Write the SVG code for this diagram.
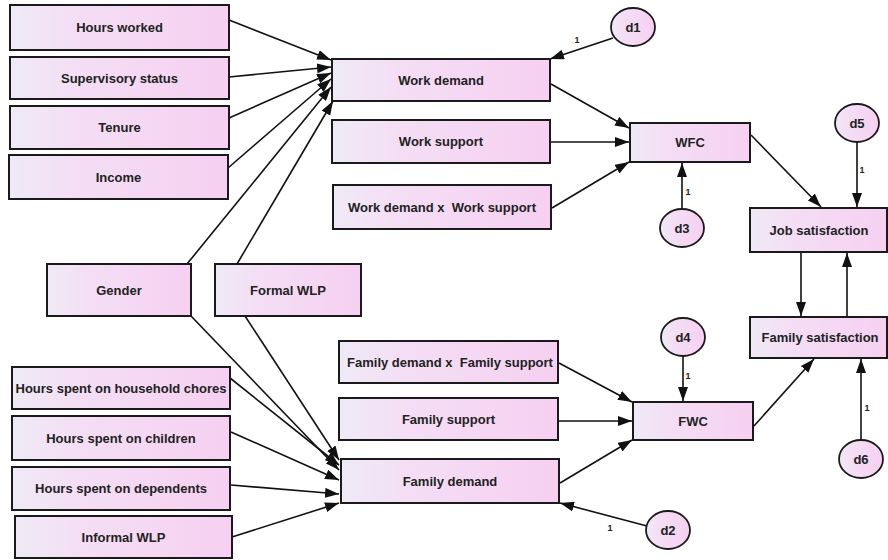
<svg xmlns="http://www.w3.org/2000/svg" width="888" height="560" viewBox="0 0 888 560">
<defs>
<linearGradient id="pk" x1="0" y1="0" x2="1" y2="0">
<stop offset="0" stop-color="#efeaf6"/>
<stop offset="0.3" stop-color="#f4def5"/>
<stop offset="1" stop-color="#f6d0f1"/>
</linearGradient>
<marker id="ah" markerUnits="userSpaceOnUse" markerWidth="14" markerHeight="10" refX="14" refY="5" orient="auto">
<path d="M0,0 L14,5 L0,10 z" fill="#111"/>
</marker>
<style>
.b{fill:url(#pk);stroke:#1a1a1a;stroke-width:2}
.e{fill:url(#pk);stroke:#1a1a1a;stroke-width:1.8}
.t{font-family:"Liberation Sans",Arial,sans-serif;font-weight:bold;font-size:13px;fill:#222;text-anchor:middle}
.c line{stroke:#111;stroke-width:1.6;marker-end:url(#ah)}
.one{font-family:"Liberation Sans",Arial,sans-serif;font-weight:bold;font-size:9px;fill:#222;text-anchor:middle}
</style>
</defs>
<rect width="888" height="560" fill="#fff"/>

<g id="connectors" class="c">
<line x1="229" y1="20" x2="331" y2="60"/>
<line x1="229" y1="77" x2="331" y2="67"/>
<line x1="229" y1="118" x2="331" y2="73"/>
<line x1="228" y1="168" x2="331" y2="79"/>
<line x1="187" y1="264" x2="331" y2="87"/>
<line x1="237" y1="264" x2="333" y2="101"/>
<line x1="551" y1="84" x2="629" y2="128"/>
<line x1="551" y1="142" x2="629" y2="142"/>
<line x1="552" y1="208" x2="629" y2="162"/>
<line x1="613" y1="38" x2="550" y2="59"/>
<line x1="682" y1="209" x2="682" y2="163"/>
<line x1="751" y1="135" x2="821" y2="207"/>
<line x1="857" y1="142" x2="857" y2="207"/>
<line x1="801" y1="252" x2="801" y2="316"/>
<line x1="847" y1="317" x2="847" y2="253"/>
<line x1="683" y1="356" x2="683" y2="401"/>
<line x1="559" y1="363" x2="632" y2="402"/>
<line x1="559" y1="421" x2="632" y2="421"/>
<line x1="560" y1="483" x2="632" y2="440"/>
<line x1="647" y1="526" x2="560" y2="503"/>
<line x1="754" y1="426" x2="814" y2="359"/>
<line x1="861" y1="440" x2="861" y2="359"/>
<line x1="230" y1="378" x2="339" y2="465"/>
<line x1="191" y1="316" x2="339" y2="470"/>
<line x1="245" y1="316" x2="339" y2="460"/>
<line x1="231" y1="432" x2="339" y2="480"/>
<line x1="231" y1="485" x2="339" y2="494"/>
<line x1="232" y1="537" x2="339" y2="503"/>
<text class="one" x="577" y="43">1</text>
<text class="one" x="688" y="195">1</text>
<text class="one" x="862" y="173">1</text>
<text class="one" x="688" y="379">1</text>
<text class="one" x="610" y="531">1</text>
<text class="one" x="867" y="411">1</text>
</g>

<g id="hours_worked"><rect class="b" x="10" y="5" width="219" height="45"/><text class="t" x="119.5" y="32">Hours worked</text></g>
<g id="supervisory_status"><rect class="b" x="10" y="57" width="219" height="42"/><text class="t" x="119.5" y="82.5">Supervisory status</text></g>
<g id="tenure"><rect class="b" x="10" y="106" width="219" height="43"/><text class="t" x="119.5" y="132">Tenure</text></g>
<g id="income"><rect class="b" x="9" y="155" width="219" height="44"/><text class="t" x="118.5" y="181.5">Income</text></g>
<g id="gender"><rect class="b" x="47" y="264" width="144" height="52"/><text class="t" x="119" y="294.5">Gender</text></g>
<g id="formal_wlp"><rect class="b" x="215" y="264" width="146" height="52"/><text class="t" x="288" y="294.5">Formal WLP</text></g>
<g id="hours_chores"><rect class="b" x="12" y="367" width="218" height="42"/><text class="t" x="121" y="392.5">Hours spent on household chores</text></g>
<g id="hours_children"><rect class="b" x="12" y="416" width="218" height="44"/><text class="t" x="121" y="442.5">Hours spent on children</text></g>
<g id="hours_dependents"><rect class="b" x="12" y="467" width="218" height="43"/><text class="t" x="121" y="493">Hours spent on dependents</text></g>
<g id="informal_wlp"><rect class="b" x="15" y="516" width="217" height="42"/><text class="t" x="123.5" y="541.5">Informal WLP</text></g>

<g id="work_demand"><rect class="b" x="332" y="59" width="218" height="42"/><text class="t" x="441" y="84.5">Work demand</text></g>
<g id="work_support"><rect class="b" x="332" y="120" width="218" height="43"/><text class="t" x="441" y="146">Work support</text></g>
<g id="wd_x_ws"><rect class="b" x="333" y="185" width="218" height="44"/><text class="t" x="442" y="211.5">Work demand x&#160; Work support</text></g>
<g id="wfc"><rect class="b" x="630" y="123" width="120" height="39"/><text class="t" x="690" y="147">WFC</text></g>
<g id="job_satisfaction"><rect class="b" x="750" y="208" width="137" height="44"/><text class="t" x="819" y="234.5">Job satisfaction</text></g>
<g id="family_satisfaction"><rect class="b" x="750" y="317" width="137" height="41"/><text class="t" x="820" y="342">Family satisfaction</text></g>
<g id="fd_x_fs"><rect class="b" x="339" y="341" width="219" height="42"/><text class="t" x="450" y="366.5">Family demand x&#160; Family support</text></g>
<g id="family_support"><rect class="b" x="339" y="398" width="219" height="42"/><text class="t" x="448.5" y="423.5">Family support</text></g>
<g id="family_demand"><rect class="b" x="341" y="459" width="218" height="44"/><text class="t" x="450" y="485.5">Family demand</text></g>
<g id="fwc"><rect class="b" x="633" y="402" width="120" height="38"/><text class="t" x="693" y="425.5">FWC</text></g>

<g id="d1"><ellipse class="e" cx="633" cy="27" rx="22" ry="19"/><text class="t" x="633" y="31.5">d1</text></g>
<g id="d3"><ellipse class="e" cx="682" cy="228" rx="22" ry="19"/><text class="t" x="682" y="232.5">d3</text></g>
<g id="d5"><ellipse class="e" cx="857" cy="123" rx="22" ry="19"/><text class="t" x="857" y="127.5">d5</text></g>
<g id="d4"><ellipse class="e" cx="683" cy="337" rx="22" ry="19"/><text class="t" x="683" y="341.5">d4</text></g>
<g id="d2"><ellipse class="e" cx="668" cy="530" rx="22" ry="19"/><text class="t" x="668" y="534.5">d2</text></g>
<g id="d6"><ellipse class="e" cx="861" cy="459" rx="22" ry="19"/><text class="t" x="861" y="463.5">d6</text></g>
</svg>
